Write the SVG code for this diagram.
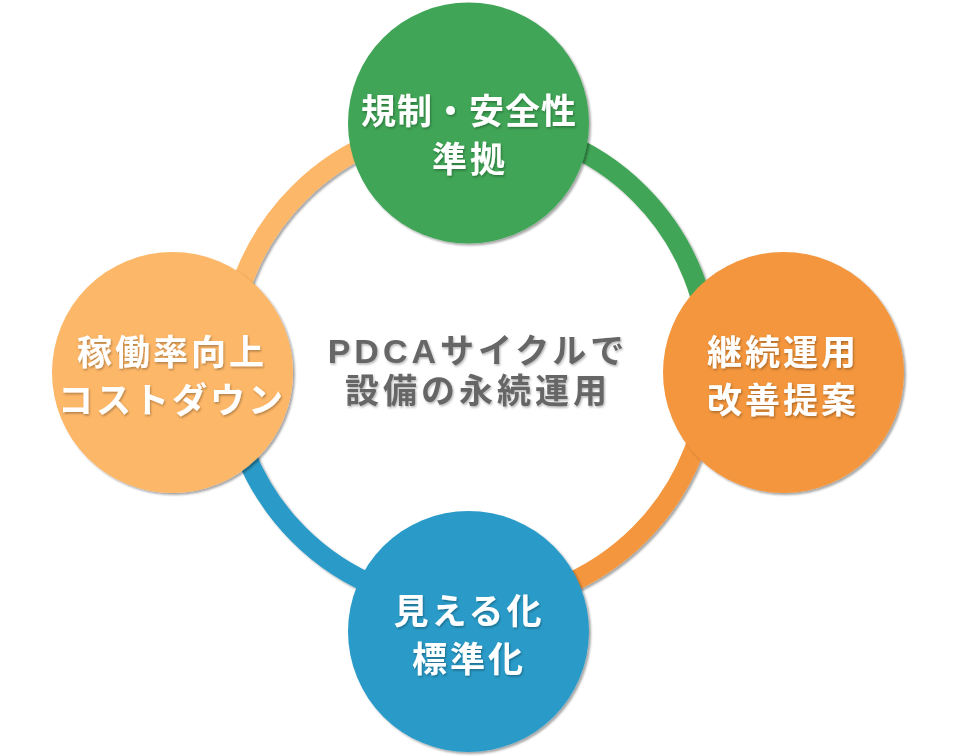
<svg xmlns="http://www.w3.org/2000/svg" width="960" height="756" viewBox="0 0 960 756">
  <defs>
    <filter id="shadow" x="-10%" y="-10%" width="120%" height="120%">
      <feDropShadow dx="2" dy="2" stdDeviation="1" flood-color="#000" flood-opacity="0.35"/>
    </filter>
    <filter id="tshadow" x="-10%" y="-20%" width="120%" height="140%">
      <feDropShadow dx="1" dy="1.5" stdDeviation="0.8" flood-color="#000" flood-opacity="0.3"/>
    </filter>
    <style>
      .arc { fill: none; stroke-width: 20; filter: url(#shadow); }
      .node { filter: url(#shadow); }
      .label { font-family: "Noto Sans CJK JP", "Noto Sans", sans-serif; font-weight: bold; font-size: 35px; fill: #ffffff; text-anchor: middle; letter-spacing: 3px; filter: url(#tshadow); }
      .center { font-family: "Liberation Sans", "Noto Sans CJK JP", sans-serif; font-weight: bold; font-size: 34px; fill: #666666; text-anchor: middle; letter-spacing: 4px; filter: url(#tshadow); }
    </style>
  </defs>
  <rect width="960" height="756" fill="#ffffff"/>

  <g id="connectors">
    <path class="arc" stroke="#FDB768" d="M 228 364 A 241 241 0 0 1 469 123"/>
    <path class="arc" stroke="#3FA556" d="M 469 123 A 241 241 0 0 1 710 364"/>
    <path class="arc" stroke="#F3963E" d="M 710 364 A 241 241 0 0 1 469 605"/>
    <path class="arc" stroke="#2B9BC8" d="M 469 605 A 241 241 0 0 1 228 364"/>
  </g>

  <g id="node-top">
    <circle class="node" cx="468.5" cy="123" r="120.5" fill="#3FA556"/>
    <text class="label" x="469" y="124" style="letter-spacing:1px">規制・安全性</text>
    <text class="label" x="470" y="172">準拠</text>
  </g>

  <g id="node-right">
    <circle class="node" cx="783.5" cy="372.5" r="120.5" fill="#F3963E"/>
    <text class="label" x="783" y="365">継続運用</text>
    <text class="label" x="783" y="413">改善提案</text>
  </g>

  <g id="node-bottom">
    <circle class="node" cx="468.5" cy="631.5" r="120.5" fill="#2B9BC8"/>
    <text class="label" x="469" y="624">見える化</text>
    <text class="label" x="469" y="672">標準化</text>
  </g>

  <g id="node-left">
    <circle class="node" cx="172.5" cy="372.5" r="120.5" fill="#FDB768"/>
    <text class="label" x="172" y="365">稼働率向上</text>
    <text class="label" x="172" y="413">コストダウン</text>
  </g>

  <g id="center-text">
    <text class="center" x="478" y="363">PDCAサイクルで</text>
    <text class="center" x="478" y="403">設備の永続運用</text>
  </g>
</svg>
